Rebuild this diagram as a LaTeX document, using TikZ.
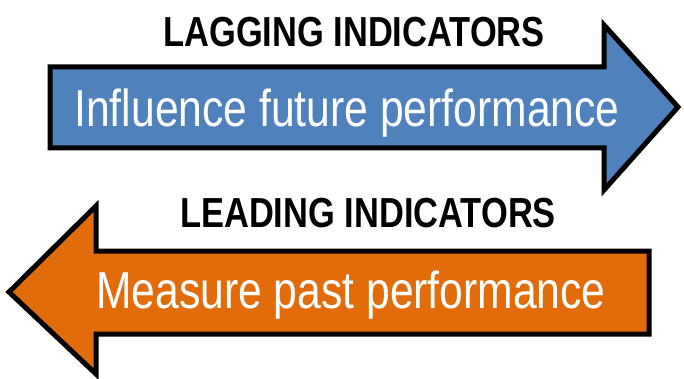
\documentclass[tikz,border=0pt]{standalone}
\usepackage{fontspec}
\newfontfamily\narrowfont[FakeStretch=0.82]{Liberation Sans}
\definecolor{arrowblue}{HTML}{4F81BD}
\definecolor{arroworange}{HTML}{E36C0A}
\begin{document}
\begin{tikzpicture}[x=1pt,y=-1pt,
every node/.style={inner sep=0pt,anchor=base},
arrowshape/.style={draw=black,line width=5pt,line join=miter,miter limit=10},
headtext/.style={font=\narrowfont\bfseries\fontsize{42}{42}\selectfont,text=black},
bodytext/.style={font=\narrowfont\fontsize{52}{52}\selectfont,text=white}]

\useasboundingbox (0,0) rectangle (684,379);

% right pointing arrow
\draw[arrowshape,fill=arrowblue] (50,67) -- (604,67) -- (604,25) -- (678,107)
  -- (604,190) -- (604,148) -- (50,148) -- cycle;

% left pointing arrow
\draw[arrowshape,fill=arroworange] (649,251) -- (96,251) -- (96,206) -- (9,292)
  -- (96,374) -- (96,334) -- (649,334) -- cycle;

\node[headtext] (lagging) at (354,47) {LAGGING INDICATORS};
\node[bodytext] (future)  at (347,127) {Influence future performance};
\node[headtext] (leading) at (368,227) {LEADING INDICATORS};
\node[bodytext] (past)    at (351,308) {Measure past performance};
\end{tikzpicture}
\end{document}
